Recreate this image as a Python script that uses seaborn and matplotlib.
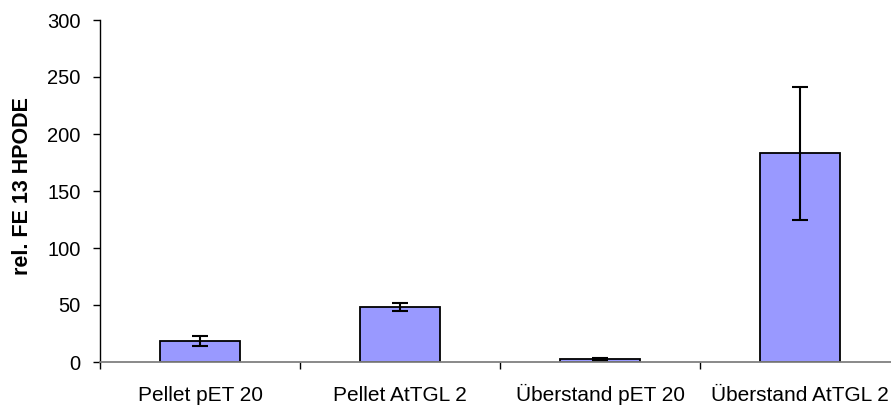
import matplotlib
matplotlib.use("Agg")
import matplotlib.pyplot as plt
import seaborn as sns
import pandas as pd
import numpy as np

categories = ["Pellet pET 20", "Pellet AtTGL 2", "Überstand pET 20", "Überstand AtTGL 2"]
values = [18.7, 48.5, 2.9, 183.0]
errors = [4.4, 3.6, 1.0, 58.0]
y_ticks = [0, 50, 100, 150, 200, 250, 300]

sns.set_theme(style="white")
plt.rcParams['font.family'] = ['Liberation Sans', 'DejaVu Sans']
plt.rcParams['text.color'] = 'black'
plt.rcParams['xtick.color'] = 'black'
plt.rcParams['ytick.color'] = 'black'
plt.rcParams['axes.labelcolor'] = 'black'

W, H = 891, 407
fig = plt.figure(figsize=(W / 100, H / 100), dpi=100)
ax = fig.add_axes([100 / W, (H - 362) / H, 800 / W, 342 / H])

df = pd.DataFrame({"cat": categories, "val": values})
sns.barplot(data=df, x="cat", y="val", order=categories, color="#9999FF",
            saturation=1, width=0.4, edgecolor="black", linewidth=1.3,
            errorbar=None, ax=ax)
ax.errorbar(np.arange(len(categories)), values, yerr=errors, fmt="none",
            ecolor="black", elinewidth=1.5, capsize=6, capthick=1.5, zorder=5)

ax.set_xlim(-0.5, len(categories) - 0.5)
ax.set_ylim(0, 300)
ax.set_yticks(y_ticks)
ax.set_yticklabels([str(t) for t in y_ticks], fontsize=14.5)

ax.set_xticks(np.arange(len(categories)))
ax.set_xticklabels(categories, fontsize=15, va="baseline")
ax.set_xticks(np.arange(len(categories) + 1) - 0.5, minor=True)
ax.tick_params(axis="x", which="major", length=0, pad=28)
ax.tick_params(axis="x", which="minor", length=5, width=1, color="black",
               direction="out", bottom=True)
ax.tick_params(axis="y", which="major", length=5, width=1, color="black",
               direction="out", left=True, pad=9)

for s in ["top", "right"]:
    ax.spines[s].set_visible(False)
ax.spines["left"].set_color("black")
ax.spines["left"].set_linewidth(1)
ax.spines["bottom"].set_color("#808080")
ax.spines["bottom"].set_linewidth(1.3)

ax.set_xlabel("")
ax.set_ylabel("rel. FE 13 HPODE", fontsize=15.5, fontweight="bold", va="center")
ax.yaxis.set_label_coords(-0.097, 0.515)

fig.savefig("out.png", dpi=100)
